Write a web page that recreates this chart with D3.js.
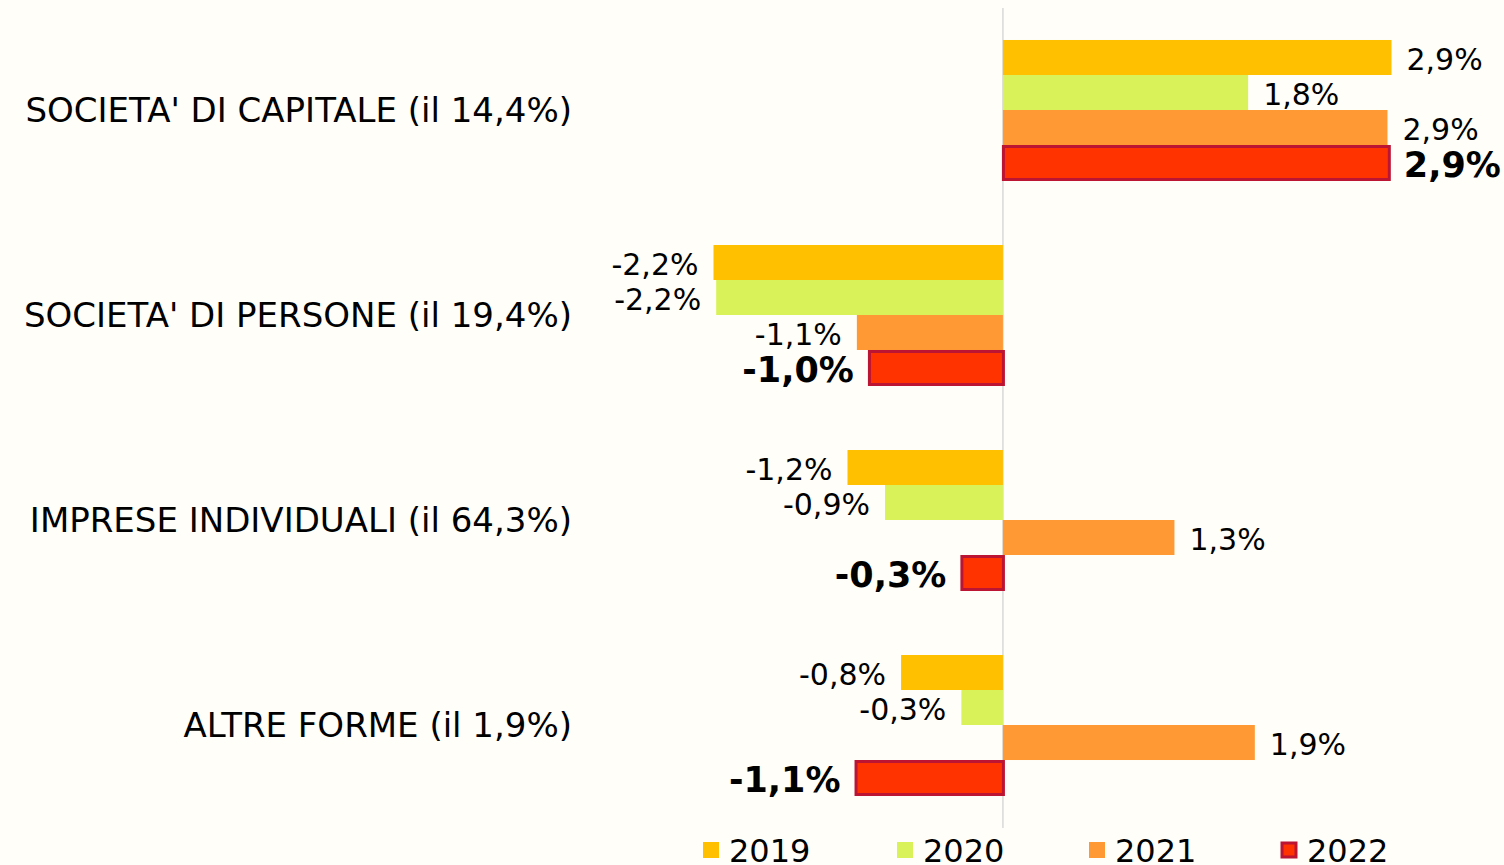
<!DOCTYPE html>
<html>
<head>
<meta charset="utf-8">
<script src="https://cdn.jsdelivr.net/npm/d3@7"></script>
<style>
  body { margin: 0; background: #fffef8; }
  svg { display: block; font-family: "DejaVu Sans", Verdana, sans-serif; }
</style>
</head>
<body>
<div id="vis"><svg></svg></div>
<script>
// categories (with share of total)
var categories = [
  "SOCIETA' DI CAPITALE (il 14,4%)",
  "SOCIETA' DI PERSONE (il 19,4%)",
  "IMPRESE INDIVIDUALI (il 64,3%)",
  "ALTRE FORME (il 1,9%)"
];
var years = ["2019", "2020", "2021", "2022"];

// growth rates, one array per year (same order as categories)
var v2019 = [2.90, -2.16, -1.16, -0.76];
var v2020 = [1.83, -2.14, -0.88, -0.31];
var v2021 = [2.87, -1.09, 1.28, 1.88];
var v2022 = [2.88, -1.00, -0.31, -1.10];

// labels as printed
var l2019 = ["2,9%", "-2,2%", "-1,2%", "-0,8%"];
var l2020 = ["1,8%", "-2,2%", "-0,9%", "-0,3%"];
var l2021 = ["2,9%", "-1,1%", "1,3%", "1,9%"];
var l2022 = ["2,9%", "-1,0%", "-0,3%", "-1,1%"];

var colors = ["#ffc000", "#daf25a", "#ff9933", "#ff3300"];

var W = 1504, H = 865;
var svg = d3.select("#vis").select("svg")
    .attr("width", W)
    .attr("height", H);

svg.append("rect").attr("width", W).attr("height", H).attr("fill", "#fffef8");

var seriesVals = [v2019, v2020, v2021, v2022];
var seriesLabs = [l2019, l2020, l2021, l2022];

var x = d3.scaleLinear().domain([-2.16, 2.9]).range([713.5, 1391.5]);
var y = d3.scaleBand().domain(categories).range([7.5, 827.5])
    .paddingInner(65 / 205).paddingOuter(0.1585);
var yy = d3.scaleBand().domain(years).range([0, y.bandwidth()]);

// zero line
svg.append("line")
    .attr("x1", x(0)).attr("x2", x(0))
    .attr("y1", 8).attr("y2", 828)
    .attr("stroke", "#d9d9d9").attr("stroke-width", 1.5);

// category labels
svg.selectAll(".cat")
    .data(categories)
  .enter().append("text")
    .attr("class", "cat")
    .attr("x", 572)
    .attr("y", function(d) { return y(d) + y.bandwidth() / 2; })
    .attr("dy", "0.36em")
    .attr("text-anchor", "end")
    .attr("font-size", "34px")
    .attr("fill", "#000")
    .text(function(d) { return d; });

years.forEach(function(yr, si) {
  var g = svg.append("g").attr("class", "series s" + yr);
  var rows = categories.map(function(c, i) {
    return {cat: c, v: seriesVals[si][i], lab: seriesLabs[si][i]};
  });
  var last = si === 3;

  g.selectAll("rect")
      .data(rows)
    .enter().append("rect")
      .attr("x", function(d) { return x(Math.min(0, d.v)) + (last ? 0.5 : 0); })
      .attr("y", function(d) { return y(d.cat) + yy(yr) + (last ? 1.5 : 0); })
      .attr("width", function(d) { return Math.abs(x(d.v) - x(0)); })
      .attr("height", yy.bandwidth() - (last ? 2 : 0))
      .attr("fill", colors[si])
      .attr("stroke", last ? "#bb1533" : "none")
      .attr("stroke-width", last ? 3 : 0);

  g.selectAll("text")
      .data(rows)
    .enter().append("text")
      .attr("x", function(d) { return d.v >= 0 ? x(d.v) + 15 : x(d.v) - 15; })
      .attr("y", function(d) { return y(d.cat) + yy(yr) + yy.bandwidth() / 2 + 2; })
      .attr("dy", "0.36em")
      .attr("text-anchor", function(d) { return d.v >= 0 ? "start" : "end"; })
      .attr("font-size", last ? "35px" : "30px")
      .attr("font-weight", last ? "bold" : "normal")
      .attr("fill", "#000")
      .text(function(d) { return d.lab; });
});

// legend
var legX = [703, 897, 1089, 1281];
var leg = svg.selectAll(".leg")
    .data(years)
  .enter().append("g")
    .attr("class", "leg")
    .attr("transform", function(d, i) { return "translate(" + legX[i] + ",842)"; });

leg.append("rect")
    .attr("width", function(d, i) { return i === 3 ? 14 : 16; })
    .attr("height", function(d, i) { return i === 3 ? 14 : 16; })
    .attr("x", function(d, i) { return i === 3 ? 1 : 0; })
    .attr("y", function(d, i) { return i === 3 ? 1 : 0; })
    .attr("fill", function(d, i) { return colors[i]; })
    .attr("stroke", function(d, i) { return i === 3 ? "#bb1533" : "none"; })
    .attr("stroke-width", 3);

leg.append("text")
    .attr("x", 26)
    .attr("y", 8)
    .attr("dy", "0.36em")
    .attr("font-size", "32px")
    .attr("fill", "#000")
    .text(function(d) { return d; });
</script>
</body>
</html>
